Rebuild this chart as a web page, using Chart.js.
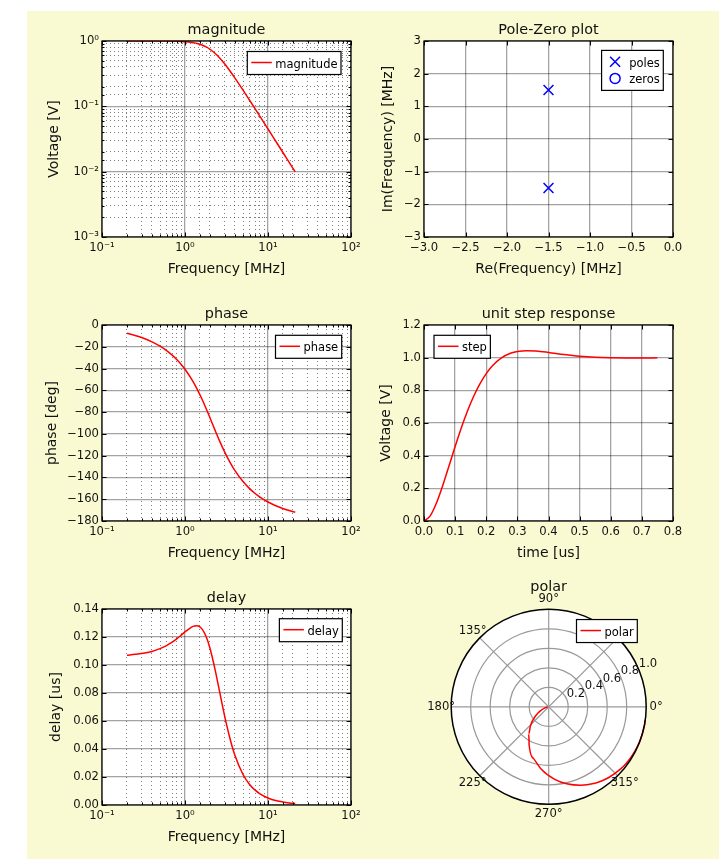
<!DOCTYPE html>
<html>
<head>
<meta charset="utf-8">
<script src="https://cdn.jsdelivr.net/npm/chart.js@4.4.1/dist/chart.umd.min.js"></script>
<style>
  html, body { margin: 0; padding: 0; background: #fff; }
  #figure { position: relative; width: 719px; height: 859px; overflow: hidden; }
  #paper { position: absolute; left: 27px; top: 11px; right: 0; bottom: 0; background: #fafad2; }
  canvas { position: absolute; }
</style>
</head>
<body>
<div id="figure">
  <div id="paper"></div>
  <canvas id="magnitude" width="359" height="276" style="left:22px;top:11px"></canvas>
  <canvas id="polezero" width="359" height="276" style="left:344px;top:11px"></canvas>
  <canvas id="phase" width="359" height="276" style="left:22px;top:295px"></canvas>
  <canvas id="step" width="359" height="276" style="left:344px;top:295px"></canvas>
  <canvas id="delay" width="359" height="276" style="left:22px;top:579px"></canvas>
  <canvas id="polar" width="315" height="276" style="left:391px;top:570px"></canvas>
</div>
<script>
// frequency response of the filter
const freqMHz = [0.2, 0.25, 0.3, 0.4, 0.5, 0.6, 0.7, 0.8, 0.9, 1.0, 1.2, 1.3, 1.4, 1.6, 1.8,
  2.0, 2.3, 2.6, 3.0, 3.5, 4.0, 5.0, 6.0, 7.0, 8.0, 10, 12, 15, 18, 21.3];
const magnitudeV = [0.99996, 0.99991, 0.9998, 0.99937, 0.99846, 0.99682, 0.99412, 0.99004, 0.98418, 0.97619,
  0.95242, 0.93616, 0.91681, 0.8692, 0.81154, 0.74741, 0.64794, 0.55413, 0.44721, 0.34482,
  0.27075, 0.17715, 0.12403, 0.09145, 0.07014, 0.04495, 0.03123, 0.02, 0.01389, 0.00992];
const phaseDeg = [-7.66, -9.59, -11.53, -15.46, -19.44, -23.5, -27.64, -31.87, -36.19, -40.6,
  -49.64, -54.23, -58.84, -67.99, -76.87, -85.24, -96.53, -106.16, -116.57, -126.43,
  -133.78, -143.81, -150.26, -154.74, -158.03, -162.56, -165.53, -168.47, -170.41, -171.9];
const delayUs = [0.107, 0.1076, 0.1082, 0.1097, 0.1117, 0.1139, 0.1163, 0.1188, 0.1213, 0.1236,
  0.1271, 0.1279, 0.128, 0.1258, 0.1202, 0.112, 0.0969, 0.0815, 0.0637, 0.047,
  0.0354, 0.0218, 0.0147, 0.0106, 0.008, 0.005, 0.0034, 0.0022, 0.0015, 0.0011];

// unit step response
const timeUs = [0, 0.02, 0.04, 0.06, 0.08, 0.1, 0.12, 0.14, 0.16, 0.18, 0.2, 0.22, 0.25,
  0.28, 0.3, 0.33, 0.36, 0.4, 0.45, 0.5, 0.55, 0.6, 0.65, 0.7, 0.75];
const stepV = [0, 0.0313, 0.1097, 0.216, 0.335, 0.4557, 0.5706, 0.6746, 0.7652, 0.8411, 0.9025, 0.9504, 1.0,
  1.0282, 1.038, 1.0431, 1.0409, 1.0322, 1.0194, 1.009, 1.0025, 0.9992, 0.9982, 0.9983, 0.9988];

// poles and zeros [MHz]
const poleRe = [-1.5, -1.5];
const poleIm = [1.5, -1.5];
const zeroRe = [];
const zeroIm = [];

// tick labels
const decadeLabels = { "-3": "10\u207B\u00B3", "-2": "10\u207B\u00B2", "-1": "10\u207B\u00B9",
  "0": "10\u2070", "1": "10\u00B9", "2": "10\u00B2" };
const polarAngles = [0, 45, 90, 135, 180, 225, 270, 315];
const polarRadii = [0.2, 0.4, 0.6, 0.8, 1.0];

const FONT = "'DejaVu Sans', sans-serif";
Chart.defaults.font.family = FONT;
Chart.defaults.color = "#111";
Chart.defaults.animation = false;

const RED = "#ff0000";
const BLUE = "#0000ff";
const MAJOR_GRID = "rgba(0,0,0,0.36)";
const MINOR_GRID = "rgba(0,0,0,0.5)";

const isDecade = (v) => Math.abs(Math.log10(v) - Math.round(Math.log10(v))) < 1e-6;
const minus = (s) => s.replace("-", "\u2212");
const isMajorTick = (ctx, log) => !log || (ctx.tick && isDecade(ctx.tick.value));

function axis(kind, opts) {
  const log = kind === "logarithmic";
  const horizontal = opts.horizontal;
  return {
    type: kind,
    min: opts.min,
    max: opts.max,
    grid: {
      drawTicks: false,
      color: (ctx) => (isMajorTick(ctx, log) ? MAJOR_GRID : MINOR_GRID),
      lineWidth: (ctx) => (isMajorTick(ctx, log) ? 1.3 : 1),
    },
    border: {
      display: false,
      dash: (ctx) => (ctx.tick && !isMajorTick(ctx, log) ? [1, 3] : []),
    },
    ticks: {
      autoSkip: false,
      maxRotation: 0,
      stepSize: opts.step,
      padding: horizontal ? 4.4 : 3,
      font: { size: 11.6 },
      callback: log
        ? (v) => (isDecade(v) ? decadeLabels[String(Math.round(Math.log10(v)))] : "")
        : (v) => minus(Number(v).toFixed(opts.digits)),
    },
    title: {
      display: true,
      text: opts.title,
      font: { size: 14 },
      padding: horizontal ? { top: 0, bottom: 9.15 } : { top: opts.titlePad, bottom: 0 },
    },
    afterFit: horizontal ? (s) => { s.height = 50; } : (s) => { s.width = 80; },
  };
}

// white axes background, black frame and inward ticks on all four sides
const framePlugin = {
  id: "frame",
  beforeDraw(chart) {
    const { ctx, chartArea: a } = chart;
    ctx.save();
    ctx.fillStyle = "#fff";
    ctx.fillRect(a.left, a.top, a.right - a.left, a.bottom - a.top);
    ctx.restore();
  },
  afterDraw(chart) {
    const { ctx, chartArea: a } = chart;
    ctx.save();
    ctx.strokeStyle = "#000";
    ctx.lineWidth = 1;
    for (const scale of Object.values(chart.scales)) {
      const log = scale.type === "logarithmic";
      for (const t of scale.ticks) {
        const p = Math.round(scale.getPixelForValue(t.value)) + 0.5;
        const len = !log || isDecade(t.value) ? 4.5 : 2.5;
        ctx.beginPath();
        if (scale.isHorizontal()) {
          ctx.moveTo(p, a.bottom); ctx.lineTo(p, a.bottom - len);
          ctx.moveTo(p, a.top); ctx.lineTo(p, a.top + len);
        } else {
          ctx.moveTo(a.left, p); ctx.lineTo(a.left + len, p);
          ctx.moveTo(a.right, p); ctx.lineTo(a.right - len, p);
        }
        ctx.stroke();
      }
    }
    ctx.lineWidth = 1.2;
    ctx.strokeRect(a.left, a.top, a.right - a.left, a.bottom - a.top);
    ctx.restore();
  },
};

// matplotlib style legend: white box with black border inside the axes
const boxLegendPlugin = {
  id: "boxLegend",
  afterDraw(chart, args, opts) {
    const { ctx, chartArea: a } = chart;
    const items = chart.data.datasets.map((ds) => ({
      label: ds.label,
      color: ds.borderColor,
      kind: ds.showLine === false ? ds.pointStyle : "line",
    }));
    ctx.save();
    ctx.font = "11.5px " + FONT;
    const textW = Math.max(...items.map((it) => ctx.measureText(it.label).width));
    const markers = items.every((it) => it.kind !== "line");
    const textX = markers ? 27.6 : 28;
    const w = textX + textW + 3.5;
    const rowH = markers ? 16.7 : 0;
    const h = markers ? 11.3 + rowH * (items.length - 1) + 12 : 23;
    const x = opts.side === "left" ? a.left + opts.inset[0] : a.right - opts.inset[0] - w;
    const y = a.top + opts.inset[1];
    ctx.fillStyle = "#fff";
    ctx.fillRect(x, y, w, h);
    ctx.strokeStyle = "#000";
    ctx.lineWidth = 1.2;
    ctx.strokeRect(x, y, w, h);
    items.forEach((it, i) => {
      const cy = y + (markers ? 11.3 : 11) + rowH * i;
      ctx.strokeStyle = it.color;
      ctx.lineWidth = 1.5;
      ctx.beginPath();
      if (it.kind === "line") {
        ctx.moveTo(x + 4, cy); ctx.lineTo(x + 24.5, cy);
      } else if (it.kind === "crossRot") {
        ctx.moveTo(x + 8.5, cy - 5); ctx.lineTo(x + 18.5, cy + 5);
        ctx.moveTo(x + 8.5, cy + 5); ctx.lineTo(x + 18.5, cy - 5);
      } else {
        ctx.arc(x + 13.5, cy, 5, 0, Math.PI * 2);
      }
      ctx.stroke();
      ctx.fillStyle = "#000";
      ctx.textBaseline = "alphabetic";
      ctx.fillText(it.label, x + textX, cy + 5);
    });
    ctx.restore();
  },
};

// fullSize off so the title is centred over the axes, not the canvas
const titleOpts = (text) => ({
  display: true,
  fullSize: false,
  text,
  font: { size: 14.4, weight: "normal" },
  color: "#111",
  padding: { top: 10.86, bottom: 1.86 },
});

function xyPoints(xs, ys) {
  return xs.map((x, i) => ({ x, y: ys[i] }));
}

const cartesianLayout = { padding: { left: 0, right: 30, top: 0, bottom: 0 } };

function lineChart(id, title, xs, ys, label, xAxis, yAxis, legend) {
  return new Chart(document.getElementById(id), {
    type: "line",
    data: {
      datasets: [{
        label,
        data: xyPoints(xs, ys),
        borderColor: RED,
        borderWidth: 1.5,
        pointRadius: 0,
        cubicInterpolationMode: "monotone",
        fill: false,
      }],
    },
    options: {
      responsive: false,
      events: [],
      layout: cartesianLayout,
      scales: { x: xAxis, y: yAxis },
      plugins: {
        legend: { display: false },
        tooltip: { enabled: false },
        title: titleOpts(title),
        boxLegend: legend,
      },
    },
    plugins: [framePlugin, boxLegendPlugin],
  });
}

const freqAxis = () => axis("logarithmic", { horizontal: true, min: 0.1, max: 100, title: "Frequency [MHz]" });

lineChart("magnitude", "magnitude", freqMHz, magnitudeV, "magnitude",
  freqAxis(),
  axis("logarithmic", { min: 0.001, max: 1, title: "Voltage [V]", titlePad: 24 }),
  { side: "right", inset: [10, 10.5] });

lineChart("phase", "phase", freqMHz, phaseDeg, "phase",
  freqAxis(),
  axis("linear", { min: -180, max: 0, step: 20, digits: 0, title: "phase [deg]", titlePad: 21.7 }),
  { side: "right", inset: [9.3, 10.3] });

lineChart("delay", "delay", freqMHz, delayUs, "delay",
  freqAxis(),
  axis("linear", { min: 0, max: 0.14, step: 0.02, digits: 2, title: "delay [us]", titlePad: 25.9 }),
  { side: "right", inset: [8.7, 9.7] });

lineChart("step", "unit step response", timeUs, stepV, "step",
  axis("linear", { horizontal: true, min: 0, max: 0.8, step: 0.1, digits: 1, title: "time [us]" }),
  axis("linear", { min: 0, max: 1.2, step: 0.2, digits: 1, title: "Voltage [V]", titlePad: 33.7 }),
  { side: "left", inset: [10, 10.3] });

new Chart(document.getElementById("polezero"), {
  type: "scatter",
  data: {
    datasets: [
      { label: "poles", data: xyPoints(poleRe, poleIm), showLine: false, pointStyle: "crossRot",
        pointRadius: 7, pointBorderWidth: 1.5, borderColor: BLUE, backgroundColor: BLUE },
      { label: "zeros", data: xyPoints(zeroRe, zeroIm), showLine: false, pointStyle: "circle",
        pointRadius: 5, pointBorderWidth: 1.5, borderColor: BLUE, backgroundColor: "rgba(0,0,0,0)" },
    ],
  },
  options: {
    responsive: false,
    events: [],
    layout: cartesianLayout,
    scales: {
      x: axis("linear", { horizontal: true, min: -3, max: 0, step: 0.5, digits: 1, title: "Re(Frequency) [MHz]" }),
      y: axis("linear", { min: -3, max: 3, step: 1, digits: 0, title: "Im(Frequency) [MHz]", titlePad: 36.4 }),
    },
    plugins: {
      legend: { display: false },
      tooltip: { enabled: false },
      title: titleOpts("Pole-Zero plot"),
      boxLegend: { side: "right", inset: [9.7, 9.4] },
    },
  },
  plugins: [framePlugin, boxLegendPlugin],
});

// polar plot of the complex response: angle = phase, radius = magnitude
const polarGridPlugin = {
  id: "polarGrid",
  geometry(chart) {
    const sx = chart.scales.x, sy = chart.scales.y;
    const cx = sx.getPixelForValue(0), cy = sy.getPixelForValue(0);
    return { cx, cy, R: sx.getPixelForValue(1) - cx, px: (r) => sx.getPixelForValue(r) - cx };
  },
  beforeDraw(chart) {
    const { ctx } = chart;
    const { cx, cy, R } = this.geometry(chart);
    ctx.save();
    ctx.fillStyle = "#fff";
    ctx.beginPath();
    ctx.arc(cx, cy, R, 0, Math.PI * 2);
    ctx.fill();
    ctx.restore();
  },
  beforeDatasetsDraw(chart) {
    const { ctx } = chart;
    const { cx, cy, R, px } = this.geometry(chart);
    ctx.save();
    ctx.strokeStyle = "#999";
    ctx.lineWidth = 1.2;
    for (const r of polarRadii.slice(0, -1)) {
      ctx.beginPath();
      ctx.arc(cx, cy, px(r), 0, Math.PI * 2);
      ctx.stroke();
    }
    for (const deg of polarAngles.slice(0, 4)) {
      const t = (deg * Math.PI) / 180;
      ctx.beginPath();
      ctx.moveTo(cx - R * Math.cos(t), cy + R * Math.sin(t));
      ctx.lineTo(cx + R * Math.cos(t), cy - R * Math.sin(t));
      ctx.stroke();
    }
    ctx.restore();
  },
  afterDatasetsDraw(chart) {
    const { ctx } = chart;
    const { cx, cy, R, px } = this.geometry(chart);
    ctx.save();
    ctx.strokeStyle = "#000";
    ctx.lineWidth = 1.5;
    ctx.beginPath();
    ctx.arc(cx, cy, R, 0, Math.PI * 2);
    ctx.stroke();
    ctx.fillStyle = "#111";
    ctx.font = "11.6px " + FONT;
    ctx.textAlign = "center";
    ctx.textBaseline = "middle";
    for (const deg of polarAngles) {
      const t = (deg * Math.PI) / 180;
      ctx.fillText(deg + "\u00B0", cx + (R + 10) * Math.cos(t), cy - (R + 10) * Math.sin(t));
    }
    ctx.textAlign = "left";
    ctx.textBaseline = "bottom";
    const t = (22.5 * Math.PI) / 180;
    for (const r of polarRadii) {
      ctx.fillText(r.toFixed(1), cx + px(r) * Math.cos(t), cy - px(r) * Math.sin(t));
    }
    ctx.restore();
  },
};

new Chart(document.getElementById("polar"), {
  type: "scatter",
  data: {
    datasets: [{
      label: "polar",
      data: phaseDeg.map((deg, i) => ({
        x: magnitudeV[i] * Math.cos((deg * Math.PI) / 180),
        y: magnitudeV[i] * Math.sin((deg * Math.PI) / 180),
      })),
      showLine: true,
      borderColor: RED,
      borderWidth: 1.5,
      pointRadius: 0,
      cubicInterpolationMode: "monotone",
      tension: 0.4,
    }],
  },
  options: {
    responsive: false,
    events: [],
    layout: { padding: { left: 60.2, right: 59.8, top: 0, bottom: 41.8 } },
    scales: {
      x: { type: "linear", min: -1, max: 1, display: false },
      y: { type: "linear", min: -1, max: 1, display: false },
    },
    plugins: {
      legend: { display: false },
      tooltip: { enabled: false },
      title: { ...titleOpts("polar"), padding: { top: 8.46, bottom: 13.7 } },
      boxLegend: { side: "right", inset: [8.9, 10.1] },
    },
  },
  plugins: [polarGridPlugin, boxLegendPlugin],
});
</script>
</body>
</html>
